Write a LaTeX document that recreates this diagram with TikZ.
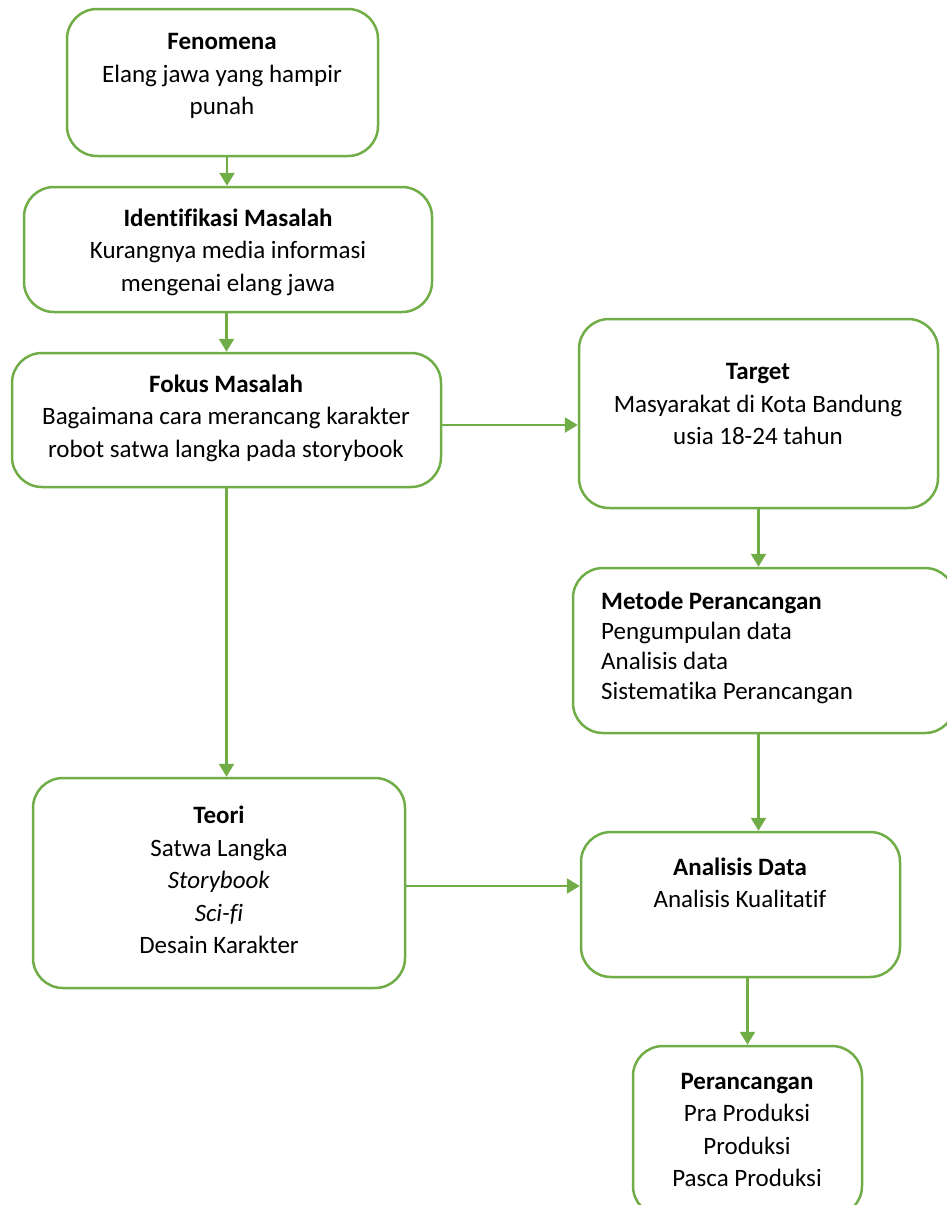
\documentclass[tikz,border=0pt]{standalone}
\usepackage{fontspec}
\setmainfont{Carlito}[Ligatures={NoCommon,NoContextual}]
\usetikzlibrary{arrows.meta,calc}
\definecolor{grn}{RGB}{112,173,71}
\tikzset{
  box/.style={draw=grn, line width=2.5pt, rounded corners=30pt, fill=white, inner sep=0pt},
  txt/.style={inner sep=0pt, font=\fontsize{25}{32.5}\selectfont, text=black},
  arr/.style={draw=grn, line width=2.5pt, -{Triangle[length=13pt,width=15pt]}}
}
\begin{document}
\begin{tikzpicture}[x=1pt,y=-1pt]
\useasboundingbox (0,0) rectangle (947,1205);
% boxes
\node[box, minimum width=311pt, minimum height=147pt] (fen) at (222.5,82.5) {};
\node[box, minimum width=408pt, minimum height=125pt] (ide) at (228,249.5) {};
\node[box, minimum width=429pt, minimum height=134pt] (fok) at (226.5,420) {};
\node[box, minimum width=359pt, minimum height=189pt] (tar) at (758.5,413.5) {};
\node[box, minimum width=382pt, minimum height=165pt] (met) at (764,650.5) {};
\node[box, minimum width=372pt, minimum height=210pt] (teo) at (219,883) {};
\node[box, minimum width=319pt, minimum height=145pt] (ana) at (740.5,904.5) {};
\node[box, minimum width=229pt, minimum height=170pt] (per) at (747.5,1131) {};
% texts
\node[txt, align=center] (tfen) at (222,76) {\textbf{Fenomena}\\Elang jawa yang hampir\\punah};
\node[txt, align=center] (tide) at (228,252) {\textbf{Identifikasi Masalah}\\Kurangnya media informasi\\mengenai elang jawa};
\node[txt, align=center] (tfok) at (226,418) {\textbf{Fokus Masalah}\\Bagaimana cara merancang karakter\\robot satwa langka pada storybook};
\node[txt, align=center] (ttar) at (758,404) {\textbf{Target}\\Masyarakat di Kota Bandung\\usia 18-24 tahun};
\node[txt, align=left, anchor=west, font=\fontsize{25}{30}\selectfont] (tmet) at (601,648) {\textbf{Metode Perancangan}\\Pengumpulan data\\Analisis data\\Sistematika Perancangan};
\node[txt, align=center] (tteo) at (219,880) {\textbf{Teori}\\Satwa Langka\\\textit{Storybook}\\\textit{Sci-fi}\\Desain Karakter};
\node[txt, align=center] (tana) at (740,883) {\textbf{Analisis Data}\\Analisis Kualitatif};
\node[txt, align=center] (tper) at (747,1130) {\textbf{Perancangan}\\Pra Produksi\\Produksi\\Pasca Produksi};
% connectors
\draw[arr] ([xshift=4.5pt]fen.south) -- ([xshift=4.5pt]fen.south |- ide.north);
\draw[arr] (fok.north |- ide.south) -- (fok.north);
\draw[arr] ([yshift=-5pt]fok.east) -- ([yshift=-5pt]fok.east -| tar.west);
\draw[arr] (fok.south) -- (fok.south |- teo.north);
\draw[arr] (tar.south) -- (tar.south |- met.north);
\draw[arr] (met.south -| tar.south) -- (ana.north -| tar.south);
\draw[arr] ([yshift=-3pt]teo.east) -- ([yshift=-3pt]teo.east -| ana.west);
\draw[arr] (per.north |- ana.south) -- (per.north);
\end{tikzpicture}
\end{document}
